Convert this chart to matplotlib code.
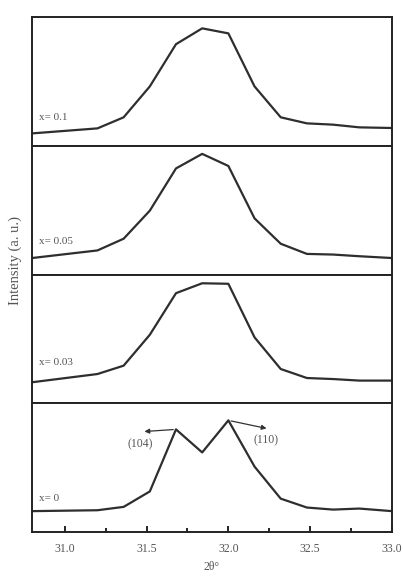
import matplotlib
matplotlib.use("Agg")
import matplotlib.pyplot as plt
from matplotlib.ticker import MultipleLocator

plt.rcParams['font.family'] = ['Liberation Serif', 'DejaVu Serif']

# 2theta positions (deg)
two_theta = [30.8, 31.2, 31.36, 31.52, 31.68, 31.84, 32.0, 32.16, 32.32, 32.48, 32.64, 32.8, 33.0]

# normalised intensities (a.u.) per composition
int_x01 = [0.096, 0.135, 0.221, 0.461, 0.789, 0.912, 0.873, 0.461, 0.221, 0.174, 0.164, 0.143, 0.138]
int_x005 = [0.128, 0.187, 0.278, 0.496, 0.824, 0.937, 0.843, 0.436, 0.239, 0.160, 0.155, 0.142, 0.128]
int_x003 = [0.163, 0.227, 0.292, 0.532, 0.855, 0.932, 0.928, 0.512, 0.266, 0.196, 0.188, 0.176, 0.176]
int_x0 = [0.162, 0.169, 0.195, 0.315, 0.797, 0.618, 0.867, 0.508, 0.259, 0.190, 0.174, 0.182, 0.162]

series = [int_x01, int_x005, int_x003, int_x0]
labels = ["x= 0.1", "x= 0.05", "x= 0.03", "x= 0"]
label_y = [0.22, 0.26, 0.32, 0.26]

fig = plt.figure(figsize=(4.03, 5.77), dpi=100)
gs = fig.add_gridspec(4, 1, left=0.0794, right=0.9727, top=0.9705, bottom=0.078, hspace=0)
axes = [fig.add_subplot(gs[i]) for i in range(4)]

for ax, y, lab, ly in zip(axes, series, labels, label_y):
    ax.plot(two_theta, y, color="#2e2e2e", lw=1.6)
    ax.set_xlim(30.8, 33.0)
    ax.set_ylim(0, 1)
    ax.set_yticks([])
    ax.text(30.84, ly, lab, fontsize=8, color="#555555", va="center")
    for s in ax.spines.values():
        s.set_linewidth(1.4)
        s.set_color("#222222")

for ax in axes[:-1]:
    ax.set_xticks([])

axb = axes[-1]
axb.xaxis.set_major_locator(MultipleLocator(0.5))
axb.xaxis.set_minor_locator(MultipleLocator(0.25))
axb.tick_params(axis="x", which="both", direction="in", labelsize=8.5, labelcolor="#555555",
                width=1.2, pad=8)
axb.tick_params(axis="x", which="major", length=4)
axb.tick_params(axis="x", which="minor", length=3)
axb.set_xlabel("2θ°", fontsize=8.5, color="#555555", labelpad=4)

axb.annotate("", xy=(31.47, 0.779), xytext=(31.68, 0.797),
             arrowprops=dict(arrowstyle="-|>", color="#333333", lw=0.9, mutation_scale=7))
axb.annotate("", xy=(32.25, 0.80), xytext=(32.0, 0.867),
             arrowprops=dict(arrowstyle="-|>", color="#333333", lw=0.9, mutation_scale=7))
axb.text(31.46, 0.68, "(104)", fontsize=8.5, color="#555555", ha="center", va="center")
axb.text(32.23, 0.715, "(110)", fontsize=8.5, color="#555555", ha="center", va="center")

fig.text(0.037, 0.548, "Intensity (a. u.)", rotation=90, fontsize=10.5, color="#555555",
         ha="center", va="center")

fig.savefig("out.png", dpi=100)
